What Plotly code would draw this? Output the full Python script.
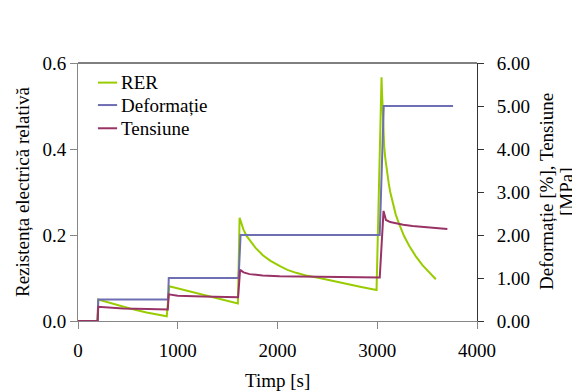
import plotly.graph_objects as go

# ---- data ----
rer_t = [0, 195, 203, 353, 520, 687, 890, 915, 1087, 1253, 1420, 1603,
         1620, 1640, 1660, 1690, 1720, 1780, 1853, 1930, 2020, 2100, 2187, 2300,
         2420, 2550, 2687, 2840, 2993,
         3043, 3048, 3053, 3058, 3063, 3070, 3080, 3090, 3103, 3115, 3130, 3153,
         3185, 3220, 3270, 3320, 3385, 3453, 3520, 3587]
rer_v = [0.0, 0.0, 0.050, 0.040, 0.029, 0.020, 0.011, 0.081, 0.071, 0.061, 0.052, 0.041,
         0.240, 0.225, 0.212, 0.198, 0.188, 0.170, 0.153, 0.140, 0.128, 0.119, 0.112, 0.105,
         0.100, 0.093, 0.086, 0.079, 0.072,
         0.567, 0.530, 0.495, 0.460, 0.429, 0.405, 0.380, 0.360, 0.340, 0.320, 0.300, 0.276,
         0.248, 0.225, 0.197, 0.175, 0.151, 0.130, 0.113, 0.097]

def_t = [0, 197, 203, 903, 910, 1610, 1630, 3025, 3065, 3760]
def_v = [0.0, 0.0, 0.5, 0.5, 1.0, 1.0, 2.0, 2.0, 5.0, 5.0]

ten_t = [0, 197, 203, 300, 450, 700, 900, 910, 1000, 1250, 1605,
         1625, 1660, 1720, 1850, 2020, 2500, 3025,
         3063, 3075, 3087, 3130, 3187, 3260, 3353, 3520, 3703]
ten_v = [0.0, 0.0, 0.33, 0.31, 0.29, 0.28, 0.27, 0.62, 0.59, 0.57, 0.55,
         1.19, 1.13, 1.09, 1.06, 1.04, 1.02, 1.01,
         2.56, 2.42, 2.35, 2.30, 2.27, 2.24, 2.21, 2.17, 2.14]

series_names = ["RER", "Deformație", "Tensiune"]
series_colors = ["#99CC00", "#6E6EB2", "#993366"]

x_ticks = [0, 1000, 2000, 3000, 4000]
left_ticks = [0.0, 0.2, 0.4, 0.6]
right_ticks = [0, 1, 2, 3, 4, 5, 6]

FONT = "Liberation Serif"
FS = 19

fig = go.Figure()
fig.add_trace(go.Scatter(x=rer_t, y=rer_v, name=series_names[0], mode="lines",
                         line=dict(color=series_colors[0], width=2), yaxis="y"))
fig.add_trace(go.Scatter(x=def_t, y=def_v, name=series_names[1], mode="lines",
                         line=dict(color=series_colors[1], width=2), yaxis="y2"))
fig.add_trace(go.Scatter(x=ten_t, y=ten_v, name=series_names[2], mode="lines",
                         line=dict(color=series_colors[2], width=2), yaxis="y2"))

# the page puts the figure 8px from the top-left, so margins are compensated
fig.update_layout(
    width=580, height=392,
    margin=dict(l=70, r=111, t=55, b=79),
    paper_bgcolor="white", plot_bgcolor="white",
    font=dict(family=FONT, size=FS, color="black"),
    showlegend=False,
    xaxis=dict(range=[0, 4000], tickvals=x_ticks, ticks="outside", ticklen=7,
               tickcolor="#868686", showline=True, linecolor="#868686", linewidth=1,
               showgrid=False, zeroline=False, ticklabelstandoff=5,
               tickfont=dict(family=FONT, size=FS)),
    yaxis=dict(range=[0, 0.6], tickvals=left_ticks, tickformat=".1f", ticks="outside",
               ticklen=7, tickcolor="#868686", showline=True, linecolor="#868686",
               linewidth=1, showgrid=False, zeroline=False,
               tickfont=dict(family=FONT, size=FS)),
    yaxis2=dict(range=[0, 6], tickvals=right_ticks, tickformat=".2f", overlaying="y",
                side="right", anchor="x", ticks="outside", ticklen=6, tickcolor="#333333",
                showline=True, linecolor="#333333", linewidth=1, showgrid=False,
                zeroline=False, ticklabelstandoff=9,
                tickfont=dict(family=FONT, size=FS)),
    yaxis3=dict(range=[0, 6], tickvals=right_ticks, overlaying="y", side="right",
                anchor="x", ticks="inside", ticklen=6, tickcolor="#333333",
                showticklabels=False, showline=False, showgrid=False, zeroline=False),
)

# top border of the plot area
fig.add_shape(type="line", xref="paper", yref="paper", x0=0, x1=1, y0=1, y1=1,
              line=dict(color="black", width=1))

# legend (compact, as in the reference)
leg_rows = [0.924, 0.837, 0.747]
for name, color, yy in zip(series_names, series_colors, leg_rows):
    fig.add_shape(type="line", xref="paper", yref="paper", x0=0.050, x1=0.098,
                  y0=yy, y1=yy, line=dict(color=color, width=2))
    fig.add_annotation(text=name, xref="paper", yref="paper", x=0.103, y=yy,
                       xanchor="left", yanchor="middle", showarrow=False,
                       font=dict(family=FONT, size=FS))

# axis titles
fig.add_annotation(text="Timp [s]", xref="paper", yref="paper", x=0.5, y=0,
                   yshift=-59, xanchor="center", yanchor="middle", showarrow=False,
                   font=dict(family=FONT, size=FS))
fig.add_annotation(text="Rezistența electrică relativă", xref="paper", yref="paper",
                   x=0, y=0.5, xshift=-56, textangle=-90, xanchor="center",
                   yanchor="middle", showarrow=False, font=dict(family=FONT, size=FS))
fig.add_annotation(text="Deformație [%], Tensiune", xref="paper", yref="paper",
                   x=1, y=0.5, xshift=69, textangle=-90, xanchor="center",
                   yanchor="middle", showarrow=False, font=dict(family=FONT, size=FS))
fig.add_annotation(text="[MPa]", xref="paper", yref="paper",
                   x=1, y=0.5, xshift=89, textangle=-90, xanchor="center",
                   yanchor="middle", showarrow=False, font=dict(family=FONT, size=FS))

fig.write_html("out.html")
